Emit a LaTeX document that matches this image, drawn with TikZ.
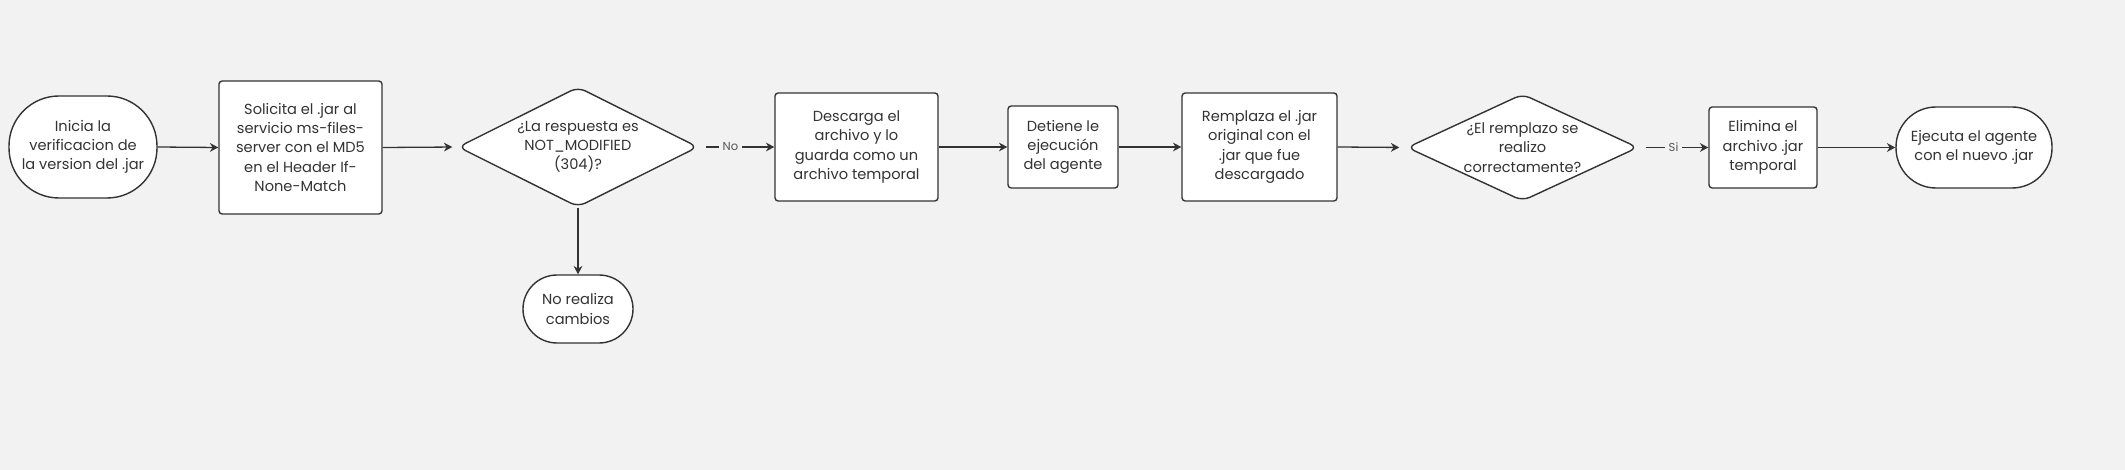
\documentclass[tikz,border=0pt]{standalone}
\usepackage{fontspec}
\setmainfont{Poppins}
\usetikzlibrary{arrows.meta,shapes.geometric}
\definecolor{bg}{HTML}{F2F2F2}
\definecolor{ink}{HTML}{333333}
\definecolor{lblink}{HTML}{555555}
\begin{document}
\begin{tikzpicture}[x=0.5pt,y=-0.5pt,
  txt/.style={text=ink, align=center, font=\fontsize{7.3}{9.6}\selectfont},
  box/.style={txt, draw=ink, fill=white, line width=0.7pt, rounded corners=1.6pt, inner sep=0pt},
  term/.style={txt, draw=ink, fill=white, line width=0.7pt, inner sep=0pt},
  decshape/.style={diamond, draw=ink, fill=white, line width=0.7pt, inner sep=0pt, rounded corners=4pt},
  arr/.style={draw=ink, line width=0.65pt, -{Stealth[length=4.2pt,width=4.4pt]}},
  lbl/.style={fill=bg, text=lblink, font=\fontsize{5.8}{7}\selectfont, inner xsep=2pt, inner ysep=1pt}]
\fill[bg] (0,0) rectangle (2125,470);
\useasboundingbox (0,0) rectangle (2125,470);

\node[term, minimum width=74pt, minimum height=51pt, rounded corners=25pt] (start) at (83,147) {Inicia la\\verificacion de\\la version del .jar};
\node[box, minimum width=81.5pt, minimum height=66.5pt] (sol) at (300.5,147.5) {Solicita el .jar al\\servicio ms-files-\\server con el MD5\\en el Header If-\\None-Match};
\node[decshape, minimum width=120pt, minimum height=60pt] (dec1) at (578,147) {};
\node[txt, inner sep=0pt] (dec1t) at (dec1) {¿La respuesta es\\NOT\_MODIFIED\\(304)?};
\node[term, minimum width=55pt, minimum height=34pt, rounded corners=17pt] (noreal) at (578,309) {No realiza\\cambios};
\node[box, minimum width=81.5pt, minimum height=54pt] (desc) at (856.5,147) {Descarga el\\archivo y lo\\guarda como un\\archivo temporal};
\node[box, minimum width=55pt, minimum height=41pt] (det) at (1063,147) {Detiene le\\ejecución\\del agente};
\node[box, minimum width=77.5pt, minimum height=54pt] (rem) at (1259.5,147) {Remplaza el .jar\\original con el\\.jar que fue\\descargado};
\node[decshape, minimum width=115.5pt, minimum height=53.5pt] (dec2) at (1522.5,147.5) {};
\node[txt, inner sep=0pt] (dec2t) at (dec2) {¿El remplazo se\\realizo\\correctamente?};
\node[box, minimum width=54pt, minimum height=40.5pt] (elim) at (1763,147.5) {Elimina el\\archivo .jar\\temporal};
\node[term, minimum width=78pt, minimum height=40.5pt, rounded corners=20pt] (ejec) at (1974,147.5) {Ejecuta el agente\\con el nuevo .jar};

\draw[arr] (start.east) -- (sol.west);
\draw[arr, shorten >=2.5pt] (sol.east) -- (dec1.west);
\draw[arr, shorten <=3.5pt] (dec1.east) -- node[lbl, pos=0.42] (nolbl) {No} (desc.west);
\draw[arr] (dec1.south) -- (noreal.north);
\draw[arr] (desc.east) -- (det.west);
\draw[arr] (det.east) -- (rem.west);
\draw[arr, shorten >=3.5pt] (rem.east) -- (dec2.west);
\draw[arr, shorten <=3.5pt] (dec2.east) -- node[lbl] (silbl) {Si} (elim.west);
\draw[arr] (elim.east) -- (ejec.west);
\end{tikzpicture}
\end{document}
